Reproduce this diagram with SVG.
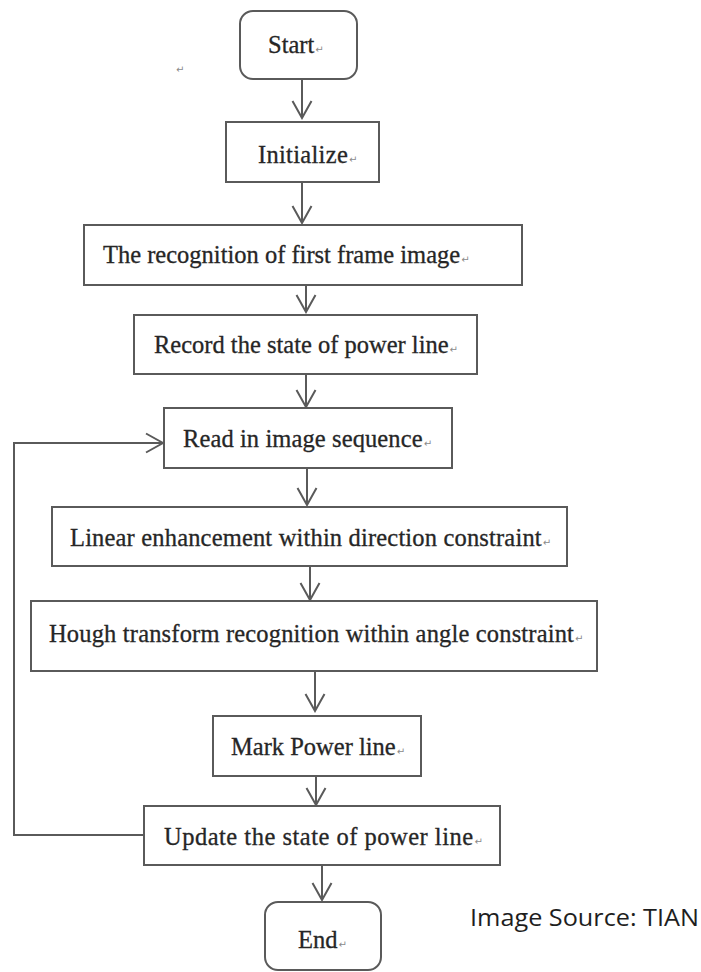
<svg xmlns="http://www.w3.org/2000/svg" width="701" height="972" viewBox="0 0 701 972">
  <style>
    .box { fill: #ffffff; stroke: #5a5a5a; stroke-width: 2; }
    .lbl { font-family: "Liberation Serif", "Times New Roman", serif; font-size: 24.5px; fill: #262626; stroke: #262626; stroke-width: 0.3; }
    .ret { font-family: "DejaVu Sans", sans-serif; font-size: 10px; fill: #8a8a8a; stroke: none; letter-spacing: 0; }
    .conn { fill: none; stroke: #5a5a5a; stroke-width: 2; }
    .src { font-family: "Open Sans", "Liberation Sans", sans-serif; font-size: 23px; fill: #1e1e1e; }
  </style>
  <defs>
    <marker id="vhead" viewBox="-1 -11 21 22" markerWidth="21" markerHeight="22" refX="18" refY="0" orient="auto" markerUnits="userSpaceOnUse">
      <path d="M1,-9.5 L18,0 L1,9.5" fill="none" stroke="#5a5a5a" stroke-width="2"/>
    </marker>
  </defs>
  <rect width="701" height="972" fill="#ffffff"/>

  <!-- stray paragraph mark -->
  <text class="ret" x="176" y="73">↵</text>

  <g id="start">
    <rect class="box" x="240" y="11" width="117" height="68" rx="13" ry="13"/>
    <text class="lbl" x="268" y="53">Start<tspan class="ret" dx="1">↵</tspan></text>
  </g>

  <g id="initialize">
    <rect class="box" x="226" y="122" width="153" height="60"/>
    <text class="lbl" x="258" y="163" letter-spacing="0.3">Initialize<tspan class="ret" dx="1">↵</tspan></text>
  </g>

  <g id="first-frame">
    <rect class="box" x="84" y="225" width="438" height="60"/>
    <text class="lbl" x="103" y="263">The recognition of first frame image<tspan class="ret" dx="1">↵</tspan></text>
  </g>

  <g id="record-state">
    <rect class="box" x="134" y="315" width="343" height="59"/>
    <text class="lbl" x="154" y="353">Record the state of power line<tspan class="ret" dx="1">↵</tspan></text>
  </g>

  <g id="read-sequence">
    <rect class="box" x="164" y="408" width="288" height="60"/>
    <text class="lbl" x="183" y="447" letter-spacing="0.1">Read in image sequence<tspan class="ret" dx="1">↵</tspan></text>
  </g>

  <g id="linear-enhancement">
    <rect class="box" x="52" y="507" width="515" height="59"/>
    <text class="lbl" x="70" y="546" letter-spacing="0.17">Linear enhancement within direction constraint<tspan class="ret" dx="1">↵</tspan></text>
  </g>

  <g id="hough-transform">
    <rect class="box" x="31" y="601" width="566" height="70"/>
    <text class="lbl" x="49" y="642" letter-spacing="0.17">Hough transform recognition within angle constraint<tspan class="ret" dx="1">↵</tspan></text>
  </g>

  <g id="mark-line">
    <rect class="box" x="213" y="716" width="208" height="60"/>
    <text class="lbl" x="231" y="755">Mark Power line<tspan class="ret" dx="1">↵</tspan></text>
  </g>

  <g id="update-state">
    <rect class="box" x="144" y="806" width="356" height="59"/>
    <text class="lbl" x="164" y="845" letter-spacing="0.5">Update the state of power line<tspan class="ret" dx="1">↵</tspan></text>
  </g>

  <g id="end">
    <rect class="box" x="265" y="902" width="116" height="68" rx="13" ry="13"/>
    <text class="lbl" x="298" y="948">End<tspan class="ret" dx="1">↵</tspan></text>
  </g>

  <g id="connectors">
    <path class="conn" d="M302,79 V118" marker-end="url(#vhead)"/>
    <path class="conn" d="M302,182 V223" marker-end="url(#vhead)"/>
    <path class="conn" d="M306,285 V312" marker-end="url(#vhead)"/>
    <path class="conn" d="M306,374 V407" marker-end="url(#vhead)"/>
    <path class="conn" d="M307,468 V505" marker-end="url(#vhead)"/>
    <path class="conn" d="M310,566 V600" marker-end="url(#vhead)"/>
    <path class="conn" d="M315,671 V711" marker-end="url(#vhead)"/>
    <path class="conn" d="M316,776 V805" marker-end="url(#vhead)"/>
    <path class="conn" d="M322,865 V900" marker-end="url(#vhead)"/>
    <path class="conn" d="M144,835 H14 V443 H163" marker-end="url(#vhead)"/>
  </g>

  <text class="src" x="470" y="926" textLength="229" lengthAdjust="spacingAndGlyphs">Image Source: TIAN</text>
</svg>
